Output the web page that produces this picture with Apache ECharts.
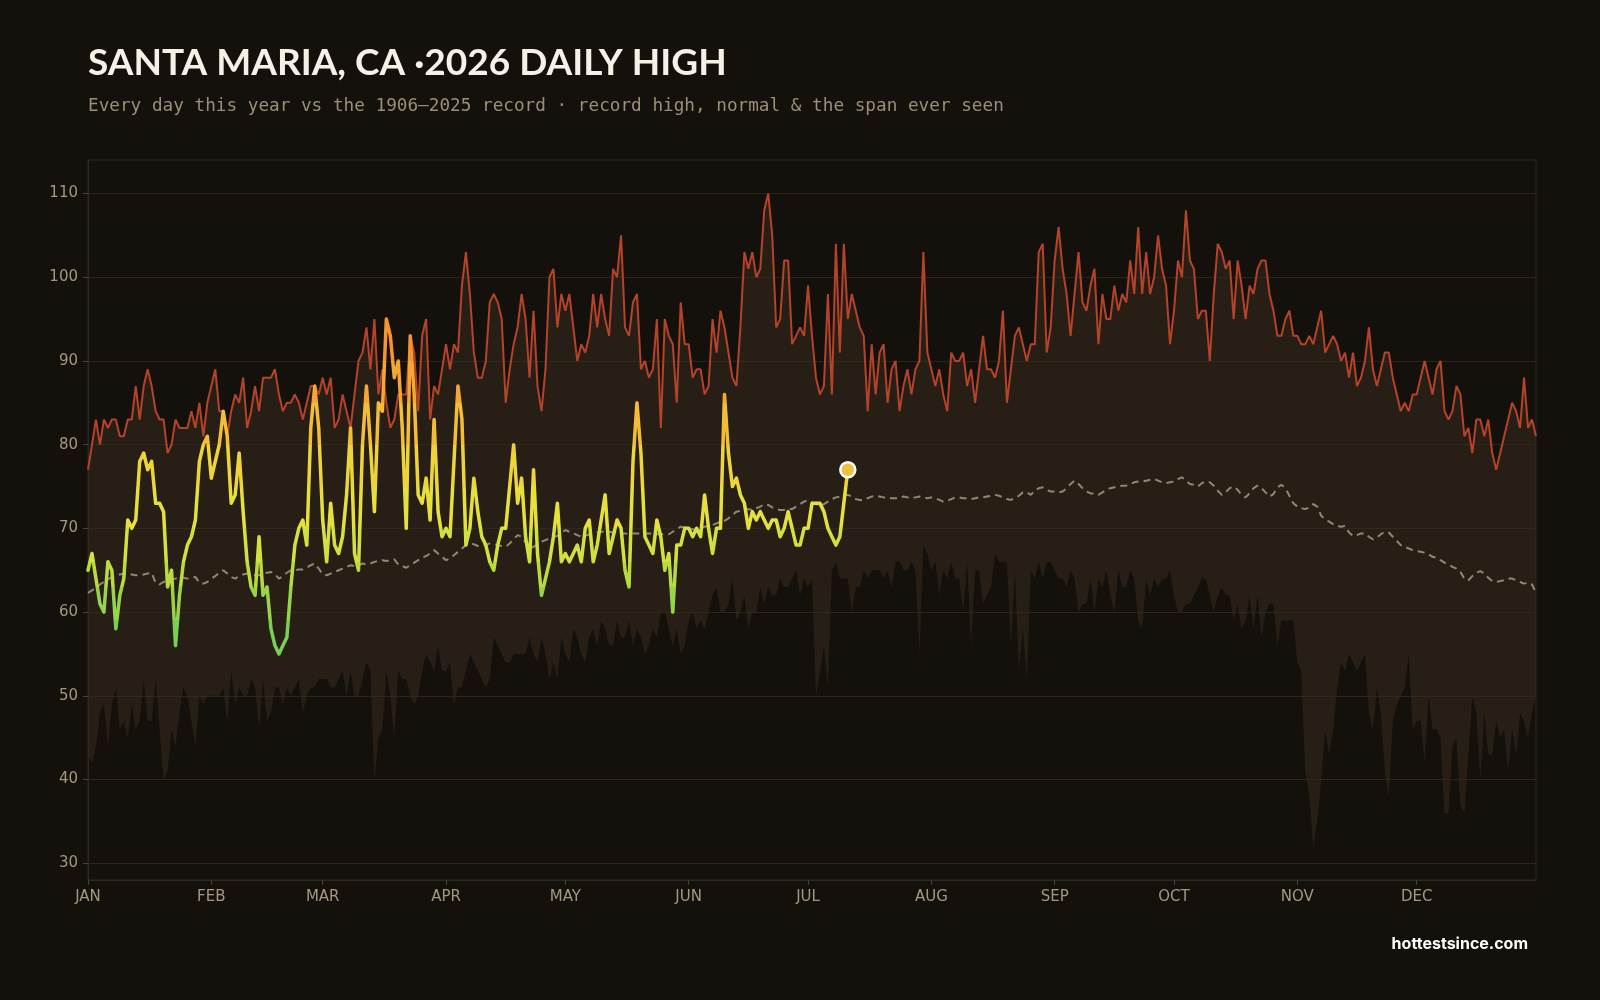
<!DOCTYPE html>
<html>
<head>
<meta charset="utf-8">
<title>Santa Maria, CA - 2026 daily high</title>
<script src="https://cdn.jsdelivr.net/npm/echarts@6/dist/echarts.min.js"></script>
<style>
  html, body { margin: 0; padding: 0; background: #14110d; }
  #chart { width: 1600px; height: 1000px; }
</style>
</head>
<body>
<div id="chart"></div>
<script>
// month labels on the x axis, placed at the first day of each month
const monthNames = ['JAN', 'FEB', 'MAR', 'APR', 'MAY', 'JUN', 'JUL', 'AUG', 'SEP', 'OCT', 'NOV', 'DEC']
const monthStarts = [0, 31, 59, 90, 120, 151, 181, 212, 243, 273, 304, 334]
const yTicks = [30, 40, 50, 60, 70, 80, 90, 100, 110]

// record high 1906-2025, one value per day of year
const recordHigh = [
  77, 80, 83, 80, 83, 82, 83, 83, 81, 81, 83, 83, 87, 83, 87, 89, 87, 84, 83, 83, 79, 80, 83, 82, 82, 82, 84, 82, 85, 81, 85,
  87, 89, 84, 84, 81, 84, 86, 85, 88, 82, 84, 87, 84, 88, 88, 88, 89, 86, 84, 85, 85, 86, 85, 83, 85, 87, 87,
  86, 88, 86, 88, 82, 83, 86, 84, 82, 86, 90, 91, 94, 89, 95, 86, 89, 85, 82, 83, 86, 86, 86, 93, 91, 84, 93, 95, 83, 87, 86,
  89, 92, 89, 92, 91, 99, 103, 98, 91, 88, 88, 90, 97, 98, 97, 95, 85, 89, 92, 94, 98, 95, 88, 96, 87, 84, 89, 100, 101, 94,
  98, 96, 98, 94, 90, 92, 91, 93, 98, 94, 98, 95, 93, 101, 100, 105, 94, 93, 97, 98, 89, 90, 88, 89, 95, 82, 95, 93, 92, 85, 97,
  92, 92, 88, 89, 89, 86, 87, 95, 91, 96, 94, 91, 88, 87, 94, 103, 101, 103, 100, 101, 108, 110, 105, 94, 95, 102, 102, 92, 93, 94,
  93, 99, 93, 88, 86, 87, 98, 86, 104, 91, 104, 95, 98, 96, 94, 93, 84, 92, 86, 91, 92, 85, 89, 90, 84, 87, 89, 86, 89, 90,
  103, 91, 89, 87, 89, 86, 84, 91, 90, 90, 91, 87, 89, 85, 89, 93, 89, 89, 88, 90, 96, 85, 89, 93, 94, 92, 90, 92, 92, 103, 104, 91, 94,
  102, 106, 101, 98, 93, 98, 103, 97, 96, 99, 101, 92, 98, 95, 95, 99, 96, 98, 97, 102, 98, 106, 98, 103, 98, 100, 105, 101, 99, 92,
  96, 102, 100, 108, 102, 101, 95, 96, 96, 90, 98, 104, 103, 101, 102, 95, 102, 99, 95, 99, 98, 101, 102, 102, 98, 96, 93, 93, 95, 96, 93,
  93, 92, 92, 93, 92, 94, 96, 91, 92, 93, 92, 90, 91, 88, 91, 87, 88, 90, 94, 89, 87, 89, 91, 91, 88, 86, 84, 85, 84, 86,
  86, 88, 90, 88, 86, 89, 90, 84, 83, 84, 87, 86, 81, 82, 79, 83, 83, 81, 83, 79, 77, 79, 81, 83, 85, 84, 82, 88, 82, 83, 81
]

// record low of the daily high, same days
const recordLow = [
  43, 42, 44, 48, 49, 44, 49, 51, 46, 47, 45, 49, 46, 47, 52, 47, 47, 52, 46, 40, 41, 46, 44, 48, 51, 50, 47, 44, 50, 49, 50,
  50, 50, 50, 51, 47, 53, 49, 51, 50, 50, 52, 51, 46, 52, 47, 48, 51, 51, 49, 51, 50, 51, 52, 48, 50, 51, 51,
  52, 52, 52, 51, 51, 52, 53, 50, 53, 50, 50, 52, 54, 53, 40, 45, 46, 53, 50, 45, 53, 52, 52, 50, 49, 50, 53, 55, 54, 53, 56,
  53, 53, 54, 49, 51, 51, 53, 55, 54, 53, 52, 51, 52, 57, 56, 55, 54, 54, 55, 55, 55, 55, 57, 55, 54, 57, 55, 52, 54, 52,
  57, 55, 54, 58, 57, 55, 54, 57, 58, 56, 59, 58, 56, 56, 59, 57, 57, 59, 56, 58, 57, 55, 56, 58, 57, 60, 60, 58, 56, 58, 55,
  56, 59, 60, 58, 59, 58, 60, 62, 63, 60, 60, 61, 64, 59, 60, 62, 58, 60, 60, 63, 61, 63, 62, 62, 64, 63, 63, 64, 65, 62,
  64, 63, 64, 50, 53, 56, 51, 65, 66, 64, 64, 64, 60, 63, 63, 65, 64, 65, 65, 65, 64, 65, 63, 66, 66, 65, 65, 66, 65, 55,
  68, 67, 65, 66, 62, 65, 64, 66, 64, 64, 60, 66, 56, 65, 65, 61, 62, 63, 67, 66, 66, 66, 56, 65, 53, 58, 52, 65, 64, 66, 64, 66, 66,
  65, 64, 64, 63, 65, 64, 60, 61, 61, 64, 60, 64, 63, 65, 62, 60, 65, 63, 63, 65, 64, 59, 58, 64, 62, 64, 63, 64, 64, 65,
  62, 60, 60, 61, 61, 62, 63, 64, 64, 62, 60, 62, 63, 62, 62, 59, 61, 58, 59, 62, 58, 62, 57, 60, 61, 61, 56, 59, 59, 59, 59,
  54, 53, 41, 38, 32, 35, 40, 46, 43, 46, 51, 54, 53, 55, 54, 53, 54, 55, 48, 46, 51, 48, 41, 38, 47, 49, 50, 51, 55, 46,
  47, 47, 42, 50, 46, 46, 45, 36, 36, 44, 45, 37, 36, 43, 50, 48, 40, 48, 43, 43, 47, 45, 46, 41, 46, 43, 48, 47, 45, 48, 50
]

// normal daily high
const normal = [
  62.3, 62.6, 62.9, 63.3, 63.6, 63.9, 64.2, 64.3, 64.5, 64.6, 64.6, 64.5, 64.4, 64.4, 64.5, 64.6, 64.7, 63.5, 63.3, 63.6, 63.8, 63.9, 64.0, 64.1, 64.1, 64.0, 64.1, 64.2, 63.5, 63.4, 63.6,
  64.0, 64.3, 64.7, 65.0, 64.6, 64.2, 64.0, 64.3, 64.5, 64.6, 64.5, 64.4, 64.4, 64.6, 64.7, 64.8, 64.5, 64.0, 64.3, 64.7, 65.0, 65.0, 65.1, 65.1, 65.3, 65.6, 65.8, 65.2,
  64.5, 64.4, 64.6, 64.8, 65.0, 65.2, 65.4, 65.6, 65.5, 65.6, 65.8, 65.7, 65.8, 66.0, 66.1, 66.2, 66.1, 66.2, 66.3, 65.7, 65.5, 65.3, 65.6, 65.9, 66.2, 66.5, 66.7, 67.0, 67.4, 67.0, 66.6,
  66.2, 66.4, 66.8, 67.2, 67.6, 68.0, 68.2, 68.1, 67.9, 67.9, 68.0, 68.2, 68.1, 68.0, 67.9, 67.8, 68.2, 68.7, 69.2, 69.0, 68.3, 67.6, 67.8, 68.1, 68.4, 68.6, 68.8, 69.0, 69.1, 69.5,
  69.8, 69.6, 69.4, 69.2, 69.0, 69.1, 69.3, 69.4, 69.5, 69.6, 69.6, 69.6, 69.5, 69.4, 69.4, 69.4, 69.3, 69.4, 69.4, 69.4, 69.4, 69.4, 69.4, 69.3, 69.3, 69.3, 69.3, 69.6, 69.9, 70.2, 70.1,
  70.0, 69.9, 69.8, 70.0, 70.2, 70.3, 70.4, 70.6, 70.8, 70.9, 71.2, 71.6, 72.0, 72.1, 72.2, 72.3, 72.2, 72.4, 72.6, 72.9, 72.8, 72.5, 72.3, 72.2, 72.2, 72.3, 72.3, 72.6, 72.9, 73.2,
  73.3, 73.1, 72.9, 72.7, 72.9, 73.2, 73.5, 73.7, 73.8, 73.9, 74.0, 73.8, 73.5, 73.4, 73.4, 73.6, 73.8, 73.9, 73.8, 73.7, 73.7, 73.6, 73.6, 73.7, 73.8, 73.7, 73.6, 73.7, 73.8, 73.7, 73.6,
  73.7, 73.6, 73.4, 73.2, 73.3, 73.5, 73.7, 73.7, 73.6, 73.6, 73.5, 73.6, 73.7, 73.7, 73.8, 73.9, 74.0, 73.9, 73.7, 73.5, 73.4, 73.6, 73.9, 74.3, 74.3, 74.0, 74.5, 74.8, 74.9, 74.6, 74.4,
  74.4, 74.3, 74.4, 74.8, 75.3, 75.7, 75.3, 74.8, 74.4, 74.2, 74.1, 74.0, 74.3, 74.6, 74.8, 74.9, 75.0, 75.1, 75.1, 75.3, 75.5, 75.6, 75.6, 75.7, 75.8, 75.9, 75.7, 75.5, 75.4, 75.5,
  75.6, 75.9, 76.1, 75.7, 75.3, 75.2, 75.0, 75.4, 75.6, 75.5, 75.1, 74.5, 74.0, 74.3, 74.8, 75.0, 74.6, 74.0, 73.7, 74.2, 74.8, 75.1, 74.8, 74.3, 73.8, 74.1, 74.9, 75.2, 74.8, 73.9, 73.0,
  72.6, 72.4, 72.3, 72.5, 72.9, 72.6, 71.5, 71.1, 70.8, 70.5, 70.3, 70.2, 70.3, 69.5, 69.1, 69.2, 69.4, 69.4, 69.0, 68.7, 68.9, 69.3, 69.6, 69.5, 69.0, 68.5, 68.0, 67.8, 67.6, 67.4,
  67.3, 67.2, 67.1, 66.9, 66.6, 66.5, 66.2, 65.9, 65.7, 65.4, 65.2, 64.8, 64.0, 63.8, 64.3, 64.7, 64.9, 64.6, 64.1, 63.7, 63.6, 63.7, 63.8, 64.0, 64.0, 63.8, 63.6, 63.4, 63.5, 63.3, 62.3
]

// 2026 daily highs so far (Jan 1 - Jul 11)
const daily2026 = [
  65, 67, 64, 61, 60, 66, 65, 58, 62, 64, 71, 70, 71, 78, 79, 77, 78, 73, 73, 72, 63, 65, 56, 62, 66, 68, 69, 71, 78, 80, 81,
  76, 78, 80, 84, 81, 73, 74, 79, 72, 66, 63, 62, 69, 62, 63, 58, 56, 55, 56, 57, 63, 68, 70, 71, 68, 82, 87,
  82, 71, 66, 73, 68, 67, 69, 74, 82, 67, 65, 80, 87, 80, 72, 85, 84, 95, 93, 88, 90, 82, 70, 93, 86, 74, 73, 76, 71, 83, 72,
  69, 70, 69, 78, 87, 83, 68, 70, 76, 72, 69, 68, 66, 65, 68, 70, 70, 75, 80, 73, 76, 69, 66, 77, 67, 62, 64, 66, 69, 73,
  66, 67, 66, 67, 68, 66, 70, 71, 66, 68, 71, 74, 67, 69, 71, 70, 65, 63, 78, 85, 79, 69, 68, 67, 71, 69, 65, 67, 60, 68, 68,
  70, 70, 69, 70, 69, 74, 70, 67, 70, 70, 86, 79, 75, 76, 74, 73, 70, 72, 71, 72, 71, 70, 71, 71, 69, 70, 72, 70, 68, 68,
  70, 70, 73, 73, 73, 72, 70, 69, 68, 69, 73, 77
]

const days = recordHigh.map((_, i) => i)
const spanWidth = recordHigh.map((h, i) => h - recordLow[i])
const lastDay = daily2026.length - 1

const chart = echarts.init(document.getElementById('chart'))

chart.setOption({
  backgroundColor: '#14110d',
  animation: false,
  textStyle: { fontFamily: 'DejaVu Sans' },
  graphic: [
    {
      type: 'text',
      style: {
        x: 88, y: 63,
        text: 'SANTA MARIA, CA \u00b72026 DAILY HIGH',
        fill: '#f6f1e7',
        font: 'bold 37px Lato',
        verticalAlign: 'middle'
      }
    },
    {
      type: 'text',
      style: {
        x: 88, y: 106,
        text: 'Every day this year vs the 1906\u20132025 record \u00b7 record high, normal & the span ever seen',
        fill: '#9c8f78',
        font: '17.7px "DejaVu Sans Mono"',
        verticalAlign: 'middle'
      }
    },
    {
      type: 'text',
      style: {
        x: 1528, y: 944,
        text: 'hottestsince.com',
        fill: '#ffffff',
        font: 'bold 16px Inter',
        align: 'right',
        verticalAlign: 'middle'
      }
    }
  ],
  grid: {
    left: 88,
    right: 64,
    top: 160,
    bottom: 120,
    show: true,
    borderColor: '#2d2820',
    borderWidth: 1
  },
  xAxis: {
    type: 'category',
    data: days,
    boundaryGap: false,
    axisLine: { lineStyle: { color: '#2d2820' } },
    axisTick: {
      interval: (idx) => monthStarts.indexOf(idx) >= 0,
      length: 5,
      lineStyle: { color: '#4a4236' }
    },
    axisLabel: {
      interval: (idx) => monthStarts.indexOf(idx) >= 0,
      formatter: (val, idx) => monthNames[monthStarts.indexOf(idx)],
      color: '#a6977d',
      fontSize: 15,
      margin: 10
    },
    splitLine: { show: false }
  },
  yAxis: {
    type: 'value',
    min: 28,
    max: 114,
    splitNumber: 9,
    axisLine: { show: true, lineStyle: { color: '#2d2820' } },
    axisTick: {
      show: true,
      customValues: yTicks,
      length: 5,
      lineStyle: { color: '#4a4236' }
    },
    axisLabel: {
      customValues: yTicks,
      color: '#a6977d',
      fontSize: 15,
      margin: 10
    },
    splitLine: { lineStyle: { color: '#2a241d', width: 1 } }
  },
  // stepped colour bands for the 2026 line (green when cool, orange when hot)
  visualMap: {
    show: false,
    type: 'piecewise',
    seriesIndex: 4,
    dimension: 1,
    pieces: [
      { lt: 59, color: '#78cf55' },
      { gte: 59, lt: 63, color: '#97d44a' },
      { gte: 63, lt: 66, color: '#b9db42' },
      { gte: 66, lt: 70, color: '#d3e03d' },
      { gte: 70, lt: 75, color: '#e6e03d' },
      { gte: 75, lt: 80, color: '#eed43b' },
      { gte: 80, lt: 85, color: '#f3bd37' },
      { gte: 85, lt: 90, color: '#f6a733' },
      { gte: 90, color: '#f6952f' }
    ]
  },
  series: [
    {
      name: 'low base',
      type: 'line',
      stack: 'span',
      data: recordLow,
      symbol: 'none',
      lineStyle: { width: 0, opacity: 0 },
      silent: true,
      z: 1
    },
    {
      name: 'span',
      type: 'line',
      stack: 'span',
      data: spanWidth,
      symbol: 'none',
      lineStyle: { width: 0, opacity: 0 },
      areaStyle: { color: 'rgba(58, 46, 32, 0.5)', opacity: 1 },
      silent: true,
      z: 1
    },
    {
      name: 'Record high',
      type: 'line',
      data: recordHigh,
      symbol: 'none',
      lineStyle: { color: '#b4432a', width: 2 },
      z: 2
    },
    {
      name: 'Normal',
      type: 'line',
      data: normal,
      symbol: 'none',
      lineStyle: { color: '#928771', width: 2, type: [7, 5] },
      z: 3
    },
    {
      name: '2026',
      type: 'line',
      data: daily2026,
      symbol: 'none',
      lineStyle: { width: 3.5, cap: 'round', join: 'round' },
      z: 4
    },
    {
      name: 'Latest',
      type: 'scatter',
      data: [[lastDay, daily2026[lastDay]]],
      symbolSize: 15,
      itemStyle: { color: '#eec03d', borderColor: '#ffffff', borderWidth: 2.5, opacity: 1 },
      z: 5
    }
  ]
})
</script>
</body>
</html>
